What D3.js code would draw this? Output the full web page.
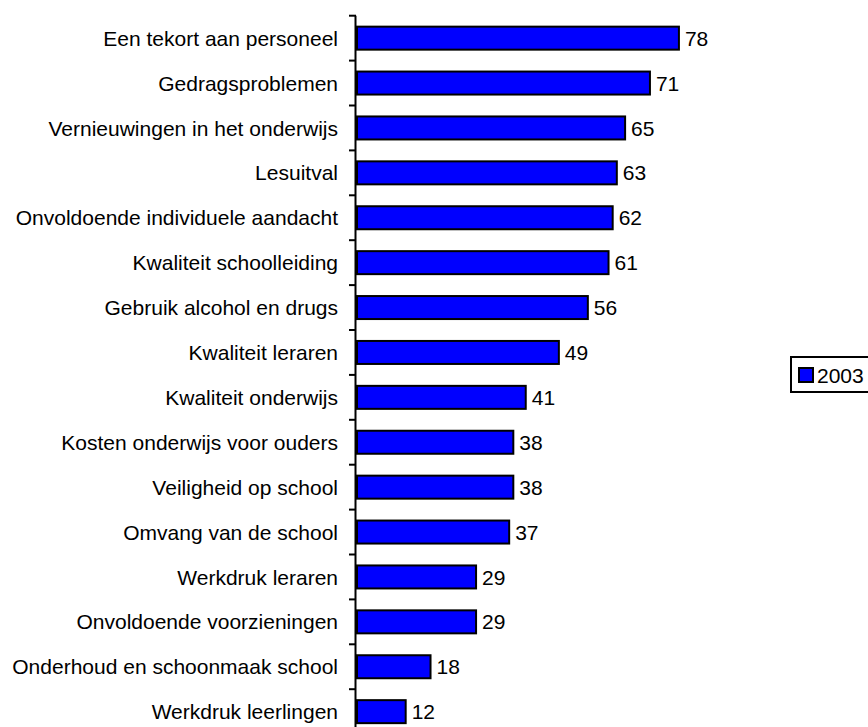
<!DOCTYPE html>
<html>
<head>
<meta charset="utf-8">
<script src="https://cdn.jsdelivr.net/npm/d3@7"></script>
<style>
  html, body { margin: 0; padding: 0; background: #fff; }
  svg { display: block; }
  text { font-family: "Liberation Sans", Arial, sans-serif; font-size: 21px; fill: #000; }
</style>
</head>
<body>
<svg id="chart" width="868" height="727"></svg>
<script>
const categories = [
  "Een tekort aan personeel",
  "Gedragsproblemen",
  "Vernieuwingen in het onderwijs",
  "Lesuitval",
  "Onvoldoende individuele aandacht",
  "Kwaliteit schoolleiding",
  "Gebruik alcohol en drugs",
  "Kwaliteit leraren",
  "Kwaliteit onderwijs",
  "Kosten onderwijs voor ouders",
  "Veiligheid op school",
  "Omvang van de school",
  "Werkdruk leraren",
  "Onvoldoende voorzieningen",
  "Onderhoud en schoonmaak school",
  "Werkdruk leerlingen"
];
const values2003 = [78, 71, 65, 63, 62, 61, 56, 49, 41, 38, 38, 37, 29, 29, 18, 12];
const seriesName = "2003";

(function () {
const svg = d3.select("#chart");
const x0 = 356, plotTop = 15.7, step = 44.9;
const x = d3.scaleLinear().domain([0, 100]).range([x0, x0 + 414]);
const y = d3.scaleBand().domain(categories).range([plotTop, plotTop + step * categories.length]).padding(0);
const barH = 23;

// bars
svg.append("g").selectAll("rect")
  .data(categories)
  .join("rect")
  .attr("x", x(0) + 1)
  .attr("y", (d) => y(d) + (y.bandwidth() - barH) / 2)
  .attr("width", (d, i) => x(values2003[i]) - x(0) - 1)
  .attr("height", barH)
  .attr("fill", "#0000FF")
  .attr("stroke", "#000")
  .attr("stroke-width", 2);

// value labels
svg.append("g").selectAll("text")
  .data(categories)
  .join("text")
  .attr("x", (d, i) => x(values2003[i]) + 6)
  .attr("y", (d) => y(d) + y.bandwidth() / 2)
  .attr("dy", "0.36em")
  .text((d, i) => values2003[i]);

// axis line + boundary ticks
const ax = svg.append("g");
ax.append("line")
  .attr("x1", x(0) - 0.5).attr("x2", x(0) - 0.5)
  .attr("y1", plotTop).attr("y2", 727)
  .attr("stroke", "#000").attr("stroke-width", 2);
const bounds = categories.map((c) => y(c)).concat([y.range()[1]]);
ax.selectAll("line.tick")
  .data(bounds)
  .join("line")
  .attr("class", "tick")
  .attr("x1", x(0) - 7).attr("x2", x(0))
  .attr("y1", (d) => d).attr("y2", (d) => d)
  .attr("stroke", "#000").attr("stroke-width", 2);

// category labels
ax.selectAll("text")
  .data(categories)
  .join("text")
  .attr("x", 338)
  .attr("y", (d) => y(d) + y.bandwidth() / 2)
  .attr("dy", "0.36em")
  .attr("text-anchor", "end")
  .text((d) => d);

// legend
const lg = svg.append("g").attr("transform", "translate(791,357)");
lg.append("rect").attr("x", 0).attr("y", 0).attr("width", 100).attr("height", 35)
  .attr("fill", "#fff").attr("stroke", "#000").attr("stroke-width", 2);
lg.append("rect").attr("x", 8).attr("y", 11).attr("width", 14).attr("height", 14)
  .attr("fill", "#0000FF").attr("stroke", "#000").attr("stroke-width", 2);
lg.append("text").attr("x", 26).attr("y", 18).attr("dy", "0.36em").text(seriesName);
})();
</script>
</body>
</html>
